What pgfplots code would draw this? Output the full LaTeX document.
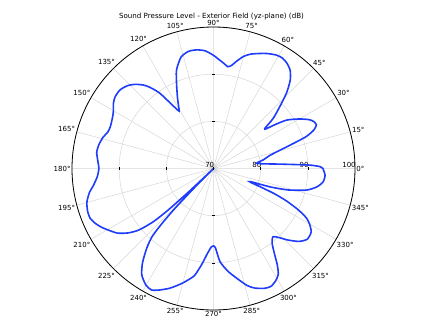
\documentclass[border=0pt]{standalone}
\usepackage{fontspec}
\setmainfont{DejaVu Sans}
\usepackage{pgfplots}
\usepackage{pgfplotstable}
\pgfplotsset{compat=1.18}
\usepgfplotslibrary{polar}
\definecolor{curveblue}{RGB}{30,60,250}
\pgfplotstableread{
ang db
0 93.2
1 92.6
2 90.5
3 86.5
4 83.5
5 81.2
6 79.8
7 79.2
8 79.6
10 80.8
13 82.2
15.7 85
17.5 87.9
19 90.8
21 92.8
23 93.7
25 93.5
27 92.8
30 91
33.5 88.6
35.5 86
37 84
38 83.8
40 86.5
43 89.2
46 92.3
49 94.8
52 96.4
55 97.2
58 97.6
61 97.5
65 96.9
68 96.3
72 95.5
75 94.6
78 93.2
80 92.2
82 91.8
84 92.3
87 93.1
90 94
94 95
98 95.4
102 95.4
106 94.7
109 93.2
111 92
114 89.2
117 86.8
119.5 85
121 84.2
122.5 85.5
125.5 89.6
128 91.8
130 93.1
133 94.4
136 95.3
140 95.9
144 95.8
147 95.3
151 94.3
155 93.8
158 93.6
161 93.7
164 94.3
168 94.8
172 95
176 94.6
180 94.3
184 94.7
188 95.7
191 96.8
195 97.8
199 98.2
202 98.2
205 97.6
208 96.7
211 95.6
214 94.5
217 92.7
219.5 90.5
221.5 87
222.5 83
223.3 77
224 71
224.5 70
225.2 76
226 82
227 86.5
228 89.5
230 92
233 95
236 97.2
240 98.6
243 98.9
246 98.2
250 97
254 95.5
257 94.3
260 93
263 90.5
266 88
268.5 86.6
270 86.4
271.5 86.9
274 89.8
278 92
282 93.8
286 95.8
289 96.8
293 97.6
296 97.8
299 97.2
301.5 96.3
303.5 94.5
305.5 92.3
308 90.2
311 89.2
313.5 90.2
316 91.8
319.5 93.8
323 94.9
327 94.7
330 93.5
332 92.3
334 90
336 87
337.5 84
338.5 81
339.5 78.5
340.5 78.3
342 82.6
344 86.5
347 90.3
350 92.3
353 93.4
356.5 93.7
360 93.2
}\spldata
\pgfplotstableread{
ang r
90 80
90 90
270 80
270 90
}\vticks
\pgfplotstableread{
ang r
180 80
180 90
0 70
0 80
0 90
}\hticks
\begin{document}
\begin{tikzpicture}
\begin{polaraxis}[
  scale only axis, width=283pt, height=283pt,
  at={(0,0)}, anchor=center,
  xmin=0, xmax=360, ymin=0, ymax=30,
  xtick={0,15,...,345},
  xticklabel={\pgfmathprintnumber[assume math mode=true]{\tick}°},
  xticklabel style={font=\fontsize{7}{8}\selectfont, inner sep=1.2pt},
  ytick={0,10,20,30},
  yticklabels={70,80,90,100},
  yticklabel style={font=\fontsize{7}{8}\selectfont, anchor=south east, inner sep=0.6pt, xshift=1.5pt},
  grid=major,
  major grid style={draw=black!16, line width=0.5pt},
  x axis line style={black, line width=0.8pt},
  y axis line style={draw=none},
  major tick length=0pt,
  y filter/.expression={max(y-70,0)},
  clip=false,
]
\addplot[curveblue, line width=1.6pt, smooth, tension=0.4] table[x=ang, y=db] {\spldata};
\addplot[only marks, mark=-, mark size=1.4pt, black, mark options={line width=0.5pt}] table[x=ang, y=r] {\vticks};
\addplot[only marks, mark=|, mark size=1.4pt, black, mark options={line width=0.5pt}] table[x=ang, y=r] {\hticks};
\coordinate (c) at (axis cs:0,0);
\end{polaraxis}
\path (c) ++(-2pt,151.5pt) node[font=\fontsize{7.1}{8}\selectfont] {Sound Pressure Level - Exterior Field (yz-plane) (dB)};
\pgfresetboundingbox
\path[use as bounding box] (c) ++(-213.5pt,-158.5pt) rectangle ++(434pt,327pt);
\end{tikzpicture}
\end{document}
